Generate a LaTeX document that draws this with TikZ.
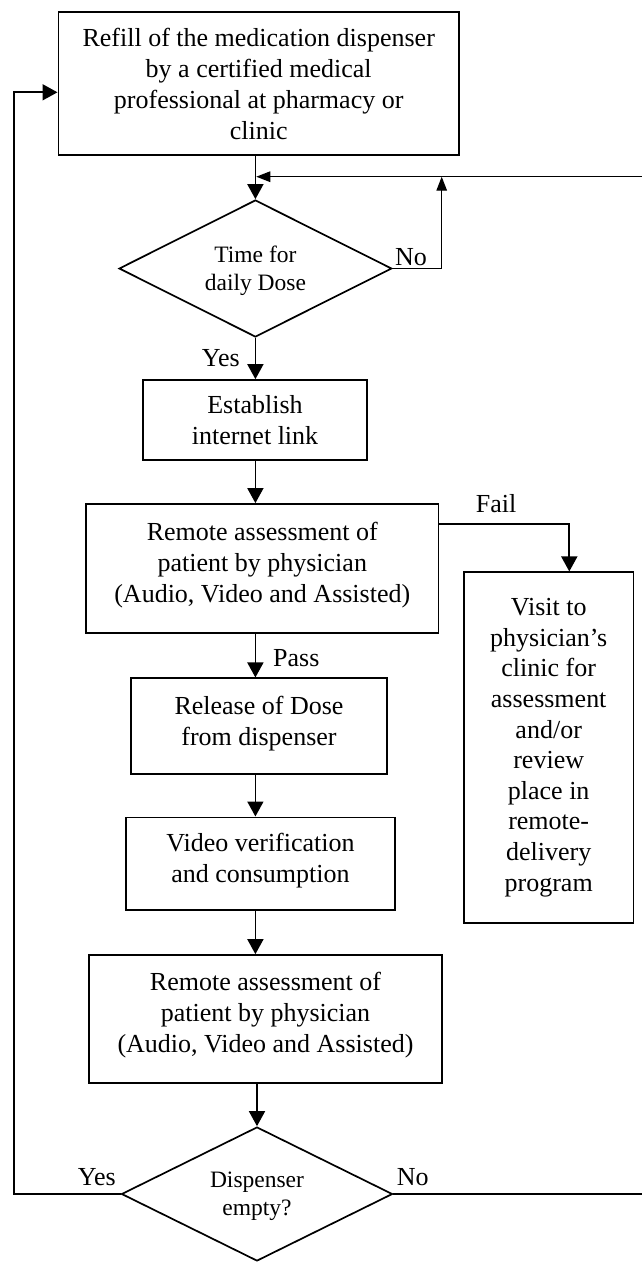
\documentclass[tikz,border=0pt]{standalone}
\usepackage{fontspec}
\setmainfont{Liberation Serif}
\usetikzlibrary{arrows.meta,shapes.geometric}
\tikzset{
  box/.style={draw, line width=1.7pt, inner sep=0pt, align=center, font=\fontsize{26}{31}\selectfont},
  dia/.style={draw, diamond, aspect=2, line width=1.7pt, inner sep=0pt, align=center, font=\fontsize{23.5}{28}\selectfont},
  lbl/.style={inner sep=0pt, anchor=base west, font=\fontsize{26}{31}\selectfont},
  conn/.style={line width=1.7pt, -{Triangle[length=15pt,width=16pt]}},
  thinarr/.style={line width=1.4pt, -{Triangle[length=14pt,width=10.5pt]}},
}
\begin{document}
\begin{tikzpicture}[x=1pt,y=-1pt]
\useasboundingbox (0,0) rectangle (641,1262);
% boxes
\node[box, text depth=-4.8pt, minimum width=400.7pt, minimum height=143pt] (b1) at (258.7,83.5)
  {Refill of the medication dispenser\\ by a certified medical\\ professional at pharmacy or\\ clinic};
\node[dia, text depth=0pt, minimum width=272.7pt, minimum height=137pt] (d1) at (255.4,268.5) {Time for\\ daily Dose};
\node[box, text depth=-5pt, minimum width=224.6pt, minimum height=80pt] (b2) at (255,420) {Establish\\ internet link};
\node[box, text depth=12.7pt, minimum width=352.5pt, minimum height=128.7pt] (b3) at (262.3,568.3)
  {Remote assessment of\\ patient by physician\\ (Audio, Video and Assisted)};
\node[box, minimum width=169.3pt, minimum height=350.4pt, font=\fontsize{26}{30.6}\selectfont] (b4) at (548.7,747.5)
  {Visit to\\ physician’s\\ clinic for\\ assessment\\ and/or\\ review\\ place in\\ remote-\\ delivery\\ program};
\node[box, text depth=11.3pt, minimum width=256.6pt, minimum height=96pt] (b5) at (259,726.3) {Release of Dose\\ from dispenser};
\node[box, text depth=11.3pt, minimum width=269pt, minimum height=92.7pt] (b6) at (260.5,863.7) {Video verification\\ and consumption};
\node[box, text depth=12.7pt, minimum width=352.4pt, minimum height=128pt] (b7) at (265.5,1019)
  {Remote assessment of\\ patient by physician\\ (Audio, Video and Assisted)};
\node[dia, text depth=-1pt, minimum width=271pt, minimum height=134pt] (d2) at (257,1194) {Dispenser\\ empty?};
% helper coordinates
\coordinate (fy) at (0,176.7);
\coordinate (nx) at (441.7,0);
\coordinate (rx) at (645,0);
\coordinate (lx) at (14,0);
\coordinate (ly) at (0,92.3);
\coordinate (fly) at (0,524.3);
\coordinate (fx) at (569.3,0);
% main spine
\draw[conn] (b1.south -| d1.north) -- (d1.north);
\draw[conn] (d1.south) -- (b2.north -| d1.south);
\draw[conn] (b2.south -| d1.south) -- (b3.north -| d1.south);
\draw[conn] (b3.south -| d1.south) -- (b5.north -| d1.south);
\draw[conn] (b5.south -| d1.south) -- (b6.north -| d1.south);
\draw[conn] (b6.south -| d1.south) -- (b7.north -| d1.south);
\draw[conn] (b7.south -| d2.north) -- (d2.north);
% loops
\draw[thinarr] (d1.east) -| (nx |- fy);
\draw[thinarr] (d2.east) -| (rx |- fy) -- ([xshift=0.85pt]d1.north |- fy);
\draw[conn] (d2.west) -| (lx |- ly) -- (b1.west |- ly);
\draw[conn] (b3.east |- fly) -| (b4.north -| fx);
% labels
\node[lbl] (lno1) at (395,265) {No};
\node[lbl] (lyes1) at (201.7,366.7) {Yes};
\node[lbl] (lfail) at (475.7,512) {Fail};
\node[lbl] (lpass) at (273,666) {Pass};
\node[lbl] (lyes2) at (77.7,1185) {Yes};
\node[lbl] (lno2) at (396.6,1185) {No};
\end{tikzpicture}
\end{document}
